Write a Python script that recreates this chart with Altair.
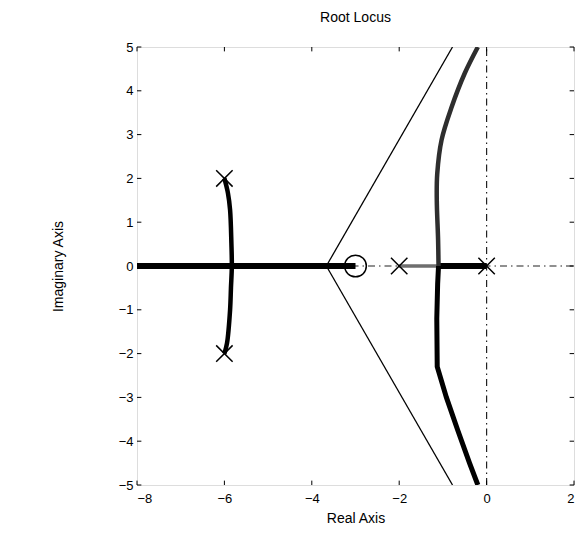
import altair as alt
import pandas as pd

# Root locus of G(s) = (s+3) / (s (s+2) (s^2 + 12 s + 40))
FONT = "Liberation Sans"

# Real-axis portions of the locus
left_re = [-8.0, -3.0]
left_im = [0.0, 0.0]
mid_re = [-2.0, -1.1]
mid_im = [0.0, 0.0]
right_re = [-1.1, 0.0]
right_im = [0.0, 0.0]

# Branch leaving the complex pole pair -6 ± 2j
cpx_re = [-6.0, -5.92, -5.87, -5.84, -5.83, -5.85, -5.87, -5.94, -6.0]
cpx_im = [2.0, 1.67, 1.28, 0.52, 0.0, -0.5, -1.0, -1.76, -2.0]

# Branches after the breakaway point near -1.1
up_re = [-1.1, -1.11, -1.14, -1.13, -1.03, -0.8, -0.5, -0.2]
up_im = [0.0, 0.6, 1.5, 2.1, 2.88, 3.63, 4.4, 5.0]
lo_re = [-1.1, -1.12, -1.14, -1.13, -0.92, -0.66, -0.39, -0.2]
lo_im = [0.0, -0.4, -1.2, -2.3, -3.0, -3.75, -4.5, -5.0]

# Asymptotes from the centroid (-11/3, 0)
asym_up_re = [-3.667, -0.78]
asym_up_im = [0.0, 5.0]
asym_lo_re = [-3.667, -0.78]
asym_lo_im = [0.0, -5.0]

# Open-loop poles and zero
pole_re = [-6.0, -6.0, -2.0, 0.0]
pole_im = [2.0, -2.0, 0.0, 0.0]
zero_re = [-3.0]
zero_im = [0.0]

# Axis ticks
x_ticks = [-8, -6, -4, -2, 0, 2]
y_ticks = [-5, -4, -3, -2, -1, 0, 1, 2, 3, 4, 5]

X_DOM = [-8, 2]
Y_DOM = [-5, 5]

xs = alt.Scale(domain=X_DOM, nice=False, zero=False)
ys = alt.Scale(domain=Y_DOM, nice=False, zero=False)


def curve(re, im, color, width, interp="linear", dash=None):
    df = pd.DataFrame({"re": re, "im": im, "k": range(len(re))})
    kw = dict(color=color, strokeWidth=width, interpolate=interp, clip=True)
    if dash:
        kw["strokeDash"] = dash
    return alt.Chart(df).mark_line(**kw).encode(
        x=alt.X("re:Q", scale=xs),
        y=alt.Y("im:Q", scale=ys),
        order="k:Q",
    )


# Base layer carrying the axes
base = alt.Chart(pd.DataFrame({"re": X_DOM, "im": Y_DOM})).mark_point(opacity=0).encode(
    x=alt.X("re:Q", scale=xs, title="Real Axis",
            axis=alt.Axis(values=x_ticks, tickSize=0, domain=False, grid=False,
                          labelPadding=7, titlePadding=6, labelFontSize=13,
                          titleFontSize=14, titleFontWeight="normal",
                          labelFont=FONT, titleFont=FONT, labelColor="black",
                          titleColor="black")),
    y=alt.Y("im:Q", scale=ys, title="Imaginary Axis",
            axis=alt.Axis(values=y_ticks, tickSize=0, domain=False, grid=False,
                          labelPadding=4, labelFontSize=13, titleFontSize=14,
                          titleFontWeight="normal", labelFont=FONT, titleFont=FONT,
                          labelColor="black", titleColor="black",
                          titleX=-72, titleY=219)),
)

# Dash-dot coordinate axes
dashdot = [7, 4, 1.5, 4]
vaxis = curve([0.0, 0.0], Y_DOM, "#222", 1.2, dash=dashdot)
haxis = curve(X_DOM, [0.0, 0.0], "#222", 1.2, dash=dashdot)

layers = [
    base,
    vaxis,
    haxis,
    curve(asym_up_re, asym_up_im, "black", 1.3),
    curve(asym_lo_re, asym_lo_im, "black", 1.3),
    curve(left_re, left_im, "black", 6),
    curve(mid_re, mid_im, "#6e6e6e", 3.5),
    curve(right_re, right_im, "black", 6),
    curve(cpx_re, cpx_im, "black", 4.5, interp="catmull-rom"),
    curve(up_re, up_im, "#2e2e2e", 4.5, interp="catmull-rom"),
    curve(lo_re, lo_im, "black", 5),
]

# Poles as crosses
poles = alt.Chart(pd.DataFrame({"re": pole_re, "im": pole_im})).mark_point(
    shape="M-1,-1L1,1M-1,1L1,-1", size=270, stroke="black", strokeWidth=1.5,
    filled=False, opacity=1,
).encode(x=alt.X("re:Q", scale=xs), y=alt.Y("im:Q", scale=ys))

# Zero as a circle
zeros = alt.Chart(pd.DataFrame({"re": zero_re, "im": zero_im})).mark_point(
    shape="circle", size=470, stroke="black", strokeWidth=1.5, filled=False,
    opacity=1,
).encode(x=alt.X("re:Q", scale=xs), y=alt.Y("im:Q", scale=ys))

# Inward tick marks on all four sides
TL = 0.1
xt = pd.DataFrame({"v": x_ticks})
yt = pd.DataFrame({"v": y_ticks})
tick_style = dict(color="black", strokeWidth=1)
ticks = [
    alt.Chart(xt).mark_rule(**tick_style).encode(
        x=alt.X("v:Q", scale=xs), y=alt.datum(Y_DOM[0]), y2=alt.datum(Y_DOM[0] + TL)),
    alt.Chart(xt).mark_rule(**tick_style).encode(
        x=alt.X("v:Q", scale=xs), y=alt.datum(Y_DOM[1]), y2=alt.datum(Y_DOM[1] - TL)),
    alt.Chart(yt).mark_rule(**tick_style).encode(
        y=alt.Y("v:Q", scale=ys), x=alt.datum(X_DOM[0]), x2=alt.datum(X_DOM[0] + TL)),
    alt.Chart(yt).mark_rule(**tick_style).encode(
        y=alt.Y("v:Q", scale=ys), x=alt.datum(X_DOM[1]), x2=alt.datum(X_DOM[1] - TL)),
]

chart = alt.layer(*layers, poles, zeros, *ticks).properties(
    width=437,
    height=438,
    title=alt.TitleParams("Root Locus", font=FONT, fontSize=14,
                          fontWeight="normal", color="black", offset=16,
                          anchor="middle"),
    autosize=alt.AutoSizeParams(type="none"),
    padding={"left": 137, "top": 47, "right": 6, "bottom": 55},
).configure_view(
    stroke="#222", strokeWidth=1
).configure(background="white")

chart.save("out.html", embed_options={"renderer": "svg", "actions": False})
